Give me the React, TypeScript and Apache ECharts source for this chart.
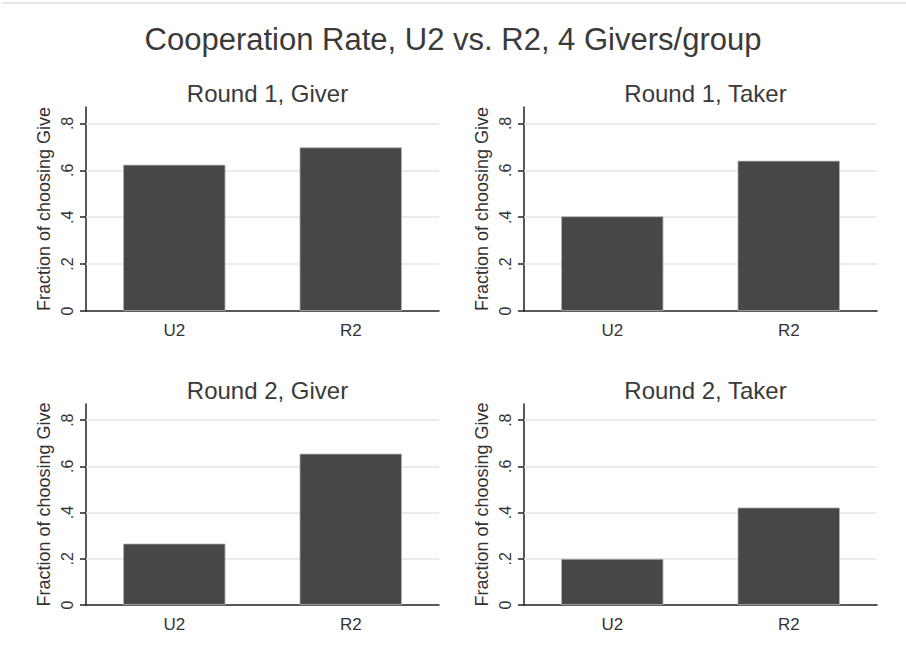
import React, { useEffect, useRef } from "react";
import * as echarts from "echarts";

const mainTitle = "Cooperation Rate, U2 vs. R2, 4 Givers/group";
const panelTitles = ["Round 1, Giver", "Round 1, Taker", "Round 2, Giver", "Round 2, Taker"];
const categories = ["U2", "R2"];
const round1Giver = [0.624, 0.698];
const round1Taker = [0.404, 0.641];
const round2Giver = [0.266, 0.655];
const round2Taker = [0.2, 0.422];
const yTicks = [0, 0.2, 0.4, 0.6, 0.8];
const yAxisName = "Fraction of choosing Give";

const panelData = [round1Giver, round1Taker, round2Giver, round2Taker];

const FONT = "Arial, 'Liberation Sans', sans-serif";

export default function App() {
  const ref = useRef<HTMLDivElement>(null);

  useEffect(() => {
    if (!ref.current) return;
    const chart = echarts.init(ref.current, undefined, { renderer: "svg" });

    const grids = [
      { left: 86, top: 107, width: 353, height: 204 },
      { left: 524, top: 107, width: 353, height: 204 },
      { left: 86, top: 404, width: 353, height: 201 },
      { left: 524, top: 404, width: 353, height: 201 },
    ];

    const titles: any[] = [
      {
        text: mainTitle,
        left: "center",
        top: 19,
        textStyle: { fontFamily: FONT, fontSize: 31, fontWeight: "normal", color: "#3a3a3a" },
      },
    ];
    grids.forEach((g, i) => {
      titles.push({
        text: panelTitles[i],
        left: g.left + g.width / 2,
        textAlign: "center",
        top: g.top - 31,
        textStyle: { fontFamily: FONT, fontSize: 24, fontWeight: "normal", color: "#3a3a3a" },
      });
    });

    const option: any = {
      animation: false,
      backgroundColor: "#fff",
      title: titles,
      grid: grids.map((g) => ({ ...g, containLabel: false })),
      xAxis: grids.map((_, i) => ({
        type: "category",
        gridIndex: i,
        data: categories,
        axisLine: { show: true, lineStyle: { color: "#222", width: 1.5 } },
        axisTick: { show: false },
        axisLabel: { fontFamily: FONT, fontSize: 17, color: "#333", margin: 11 },
        splitLine: { show: false },
      })),
      yAxis: grids.map((_, i) => ({
        type: "value",
        gridIndex: i,
        min: 0,
        max: 0.87,
        name: yAxisName,
        nameLocation: "middle",
        nameGap: 33,
        nameTextStyle: { fontFamily: FONT, fontSize: 18, color: "#333" },
        axisLine: { show: true, lineStyle: { color: "#222", width: 1.5 } },
        axisTick: { show: true, length: 6, customValues: yTicks, lineStyle: { color: "#222", width: 1.5 } },
        axisLabel: {
          customValues: yTicks,
          rotate: 90,
          fontFamily: FONT,
          fontSize: 16,
          color: "#333",
          margin: 11,
          formatter: (v: number) => (v === 0 ? "0" : v.toFixed(1).replace(/^0/, "")),
        },
        splitLine: { show: false },
      })),
      series: panelData.map((d, i) => ({
        type: "bar",
        xAxisIndex: i,
        yAxisIndex: i,
        data: d,
        barWidth: "58%",
        itemStyle: { color: "#474747", borderColor: "#b8b8b8", borderWidth: 0.8 },
        markLine: {
          silent: true,
          symbol: "none",
          z: 1,
          label: { show: false },
          lineStyle: { color: "#e4e4e4", width: 1.5, type: "solid" },
          data: yTicks.filter((t) => t > 0).map((t) => ({ yAxis: t })),
        },
      })),
      graphic: [
        {
          type: "rect",
          shape: { x: 2, y: 2, width: 904, height: 2 },
          style: { fill: "#e6e6e6" },
          silent: true,
        },
      ],
    };

    chart.setOption(option);
    return () => chart.dispose();
  }, []);

  return (
    <div
      ref={ref}
      style={{ position: "fixed", left: 0, top: 0, width: 906, height: 663, background: "#fff" }}
    />
  );
}
